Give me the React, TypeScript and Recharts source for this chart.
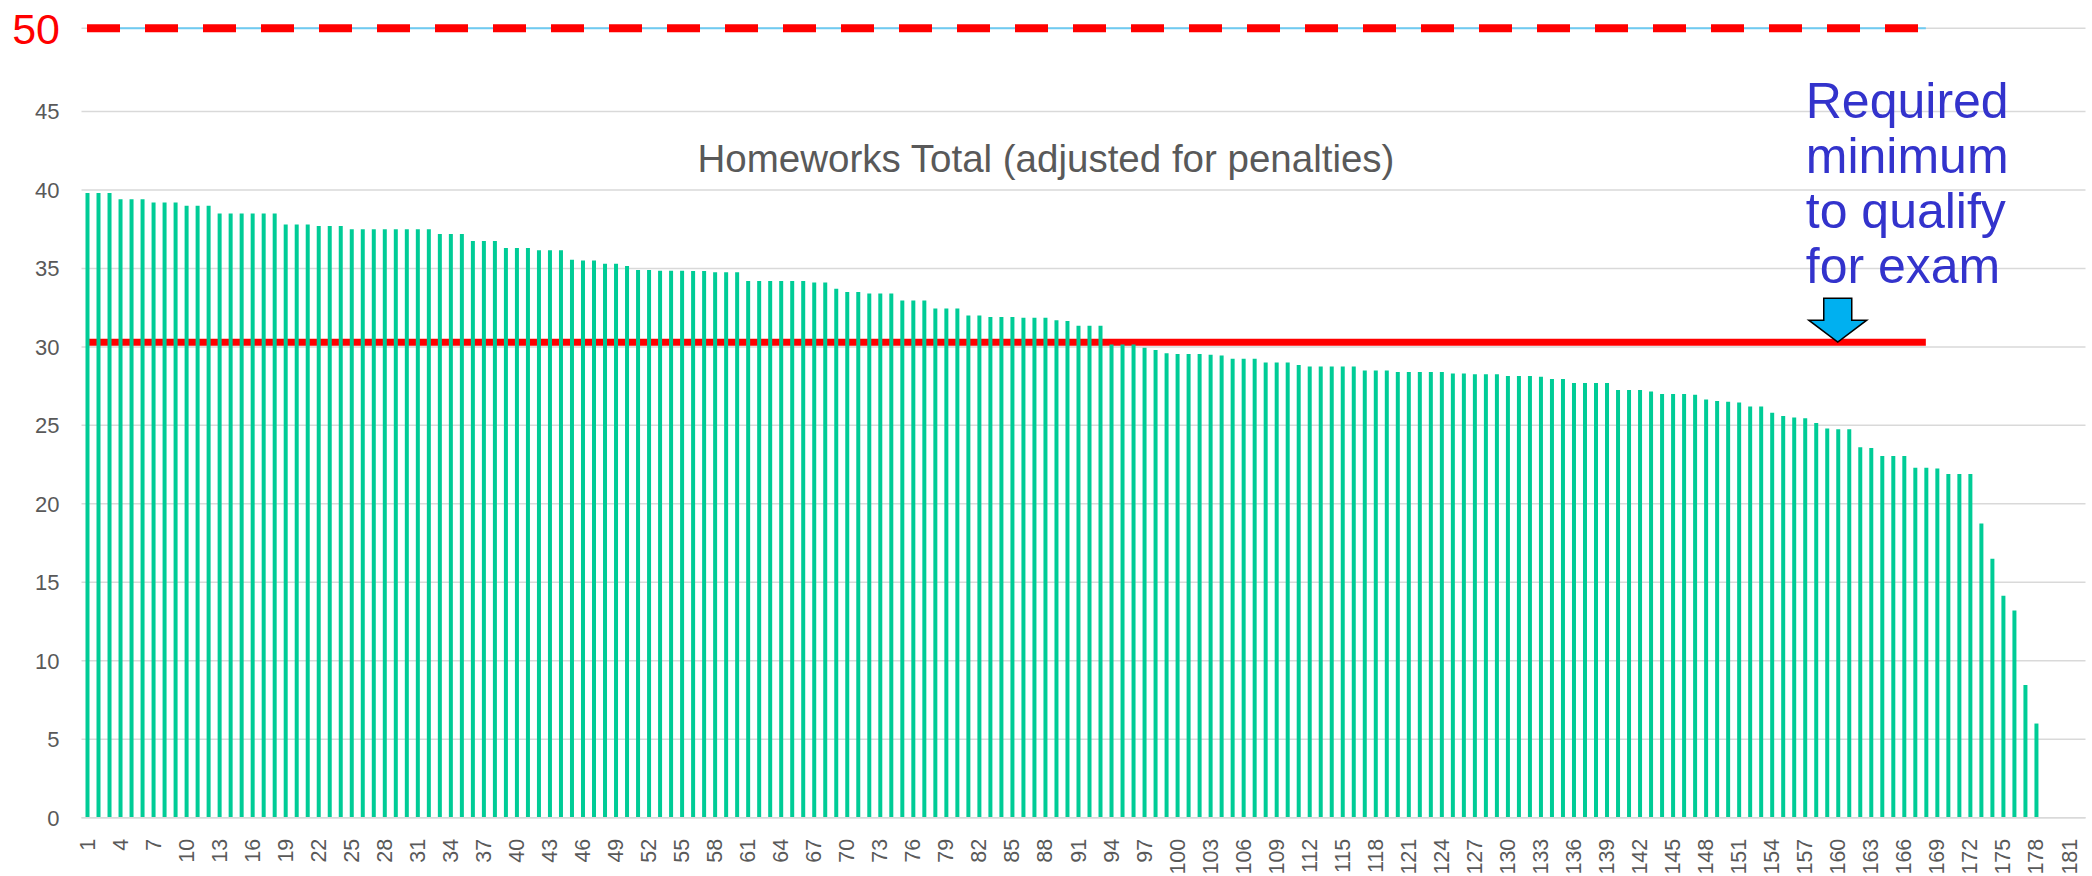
import { BarChart, Bar, XAxis, YAxis, CartesianGrid, ReferenceLine, ReferenceDot } from "recharts";

const FONT = "'Liberation Sans', Arial, sans-serif";

// homework totals, sorted, students 1..178 (182 slots on the axis)
const SCORES = [
  39.8, 39.8, 39.8, 39.4, 39.4, 39.4, 39.2, 39.2, 39.2, 39.0,
  39.0, 39.0, 38.5, 38.5, 38.5, 38.5, 38.5, 38.5, 37.8, 37.8,
  37.8, 37.7, 37.7, 37.7, 37.5, 37.5, 37.5, 37.5, 37.5, 37.5,
  37.5, 37.5, 37.2, 37.2, 37.2, 36.75, 36.75, 36.75, 36.3, 36.3,
  36.3, 36.15, 36.15, 36.15, 35.55, 35.5, 35.5, 35.3, 35.3, 35.15,
  34.9, 34.9, 34.85, 34.85, 34.85, 34.83, 34.83, 34.75, 34.75, 34.75,
  34.2, 34.2, 34.2, 34.2, 34.2, 34.2, 34.1, 34.1, 33.7, 33.5,
  33.5, 33.4, 33.4, 33.4, 32.95, 32.95, 32.95, 32.45, 32.45, 32.45,
  32.0, 32.0, 31.9, 31.9, 31.9, 31.85, 31.85, 31.85, 31.7, 31.65,
  31.35, 31.35, 31.35, 30.15, 30.15, 30.15, 29.95, 29.8, 29.6, 29.55,
  29.55, 29.55, 29.5, 29.45, 29.25, 29.25, 29.25, 29.0, 29.0, 29.0,
  28.85, 28.75, 28.75, 28.75, 28.75, 28.75, 28.5, 28.5, 28.5, 28.4,
  28.4, 28.4, 28.4, 28.4, 28.3, 28.3, 28.25, 28.25, 28.25, 28.15,
  28.15, 28.15, 28.1, 27.95, 27.95, 27.7, 27.7, 27.7, 27.7, 27.25,
  27.25, 27.25, 27.15, 27.0, 27.0, 27.0, 26.95, 26.65, 26.55, 26.5,
  26.45, 26.2, 26.2, 25.8, 25.6, 25.5, 25.45, 25.15, 24.8, 24.75,
  24.75, 23.6, 23.55, 23.05, 23.05, 23.05, 22.3, 22.3, 22.25, 21.9,
  21.9, 21.9, 18.75, 16.5, 14.15, 13.2, 8.45, 6.0,
];
const SLOTS = 182;
const CATEGORIES = Array.from({ length: SLOTS }, (_, i) => i + 1);
const Y_TICKS = [0, 5, 10, 15, 20, 25, 30, 35, 40, 45];

const MAX_LINE = 50.3; // the "50" dashed line sits a bit above the 45 grid step
const MIN_LINE = 30.3;
const LINE_FROM = 1;
const LINE_TO = 168;
const ARROW_AT = 160;

const data = CATEGORIES.map((c, i) => ({ cat: c, value: SCORES[i] ?? null }));

const XTick = ({ x, y, payload }: any) => (
  <text
    x={x}
    y={y + 19}
    transform={`rotate(-90, ${x}, ${y + 19})`}
    textAnchor="end"
    dy="0.35em"
    fill="#595959"
    fontSize={21.5}
    fontFamily={FONT}
  >
    {payload.value}
  </text>
);

const Callout = ({ cx, cy }: any) => {
  if (cx == null || cy == null) return null;
  const lines = ["Required", "minimum", "to qualify", "for exam"];
  return (
    <g>
      {lines.map((t, i) => (
        <text key={t} x={cx - 32} y={cy - 224 + i * 55} fill="#3333CC" fontSize={50} fontFamily={FONT}>
          {t}
        </text>
      ))}
      <path
        d={`M${cx - 14},${cy - 44} L${cx + 14},${cy - 44} L${cx + 14},${cy - 22} L${cx + 29},${cy - 22} L${cx},${cy} L${cx - 29},${cy - 22} L${cx - 14},${cy - 22} Z`}
        fill="#00B0F0"
        stroke="#000"
        strokeWidth={1.5}
      />
    </g>
  );
};

export default function App() {
  return (
    <div style={{ position: "absolute", left: 0, top: 0, width: 2092, height: 876, background: "#fff", fontFamily: FONT }}>
      <BarChart width={2092} height={876} data={data} margin={{ top: 28.3, right: 6.5, bottom: 0, left: 0 }}>
        <CartesianGrid vertical={false} stroke="#d9d9d9" strokeWidth={1.5} />
        <XAxis
          dataKey="cat"
          interval={2}
          height={58.3}
          tickLine={false}
          tickSize={0}
          axisLine={{ stroke: "#d9d9d9", strokeWidth: 1.5 }}
          tick={<XTick />}
        />
        <YAxis
          domain={[0, MAX_LINE]}
          ticks={Y_TICKS}
          width={81.5}
          tickLine={false}
          axisLine={false}
          tickSize={0}
          tickMargin={22}
          tick={{ fill: "#595959", fontSize: 22, fontFamily: FONT }}
        />
        <ReferenceLine
          segment={[{ x: LINE_FROM, y: MAX_LINE }, { x: LINE_TO, y: MAX_LINE }]}
          stroke="#6FCBF2"
          strokeWidth={2}
        />
        <ReferenceLine
          segment={[{ x: LINE_FROM, y: MAX_LINE }, { x: LINE_TO, y: MAX_LINE }]}
          stroke="#FF0000"
          strokeWidth={8}
          strokeDasharray="33 25"
          label={{ value: "50", position: "left", offset: 27, fill: "#FF0000", fontSize: 43, fontFamily: FONT }}
        />
        <ReferenceLine
          segment={[{ x: LINE_FROM, y: MIN_LINE }, { x: LINE_TO, y: MIN_LINE }]}
          stroke="#FF0000"
          strokeWidth={7}
          zIndex={100}
        />
        <Bar dataKey="value" fill="#00CC96" barSize={4} isAnimationActive={false} zIndex={300} />
        <ReferenceDot x={ARROW_AT} y={MIN_LINE} r={0} shape={<Callout />} />
      </BarChart>
      <svg width={2092} height={876} style={{ position: "absolute", left: 0, top: 0, pointerEvents: "none" }}>
        <text x={1046} y={171.7} textAnchor="middle" fill="#595959" fontSize={38.5} fontFamily={FONT}>
          Homeworks Total (adjusted for penalties)
        </text>
      </svg>
    </div>
  );
}
